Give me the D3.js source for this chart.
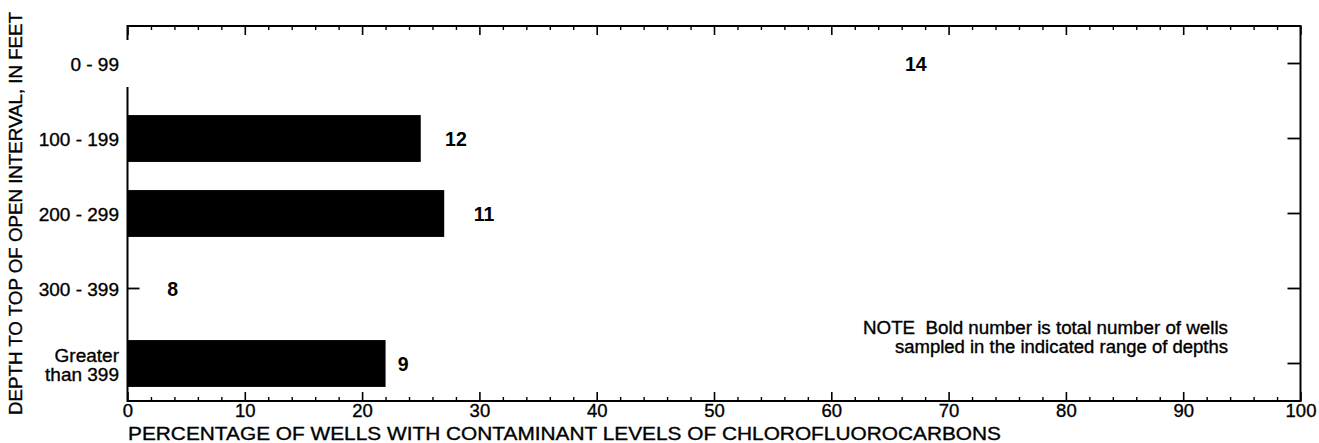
<!DOCTYPE html>
<html>
<head>
<meta charset="utf-8">
<script src="https://cdn.jsdelivr.net/npm/d3@7/dist/d3.min.js"></script>
<style>
  html, body { margin: 0; padding: 0; background: #fff; }
  svg { display: block; }
  text { font-family: "Liberation Sans", Arial, Helvetica, sans-serif; fill: #000; }
  text.heavy { stroke: #000; stroke-width: 0.35px; }
</style>
</head>
<body>
<svg id="chart" width="1319" height="443"></svg>
<script>
// Depth ranges (top of open interval, feet)
const categories = ["0 - 99", "100 - 199", "200 - 299", "300 - 399", "Greater than 399"];
// Label lines shown on the depth axis
const categoryLabels = [["0 - 99"], ["100 - 199"], ["200 - 299"], ["300 - 399"], ["Greater", "than 399"]];
// Percentage of wells with contaminant levels of CFCs
const percentValues = [0, 25, 27, 0, 22];
// Total number of wells sampled in each depth range
const wellCounts = [14, 12, 11, 8, 9];
// Percentage axis ticks
const majorTicks = [0, 10, 20, 30, 40, 50, 60, 70, 80, 90, 100];
const minorTicks = [2, 4, 6, 8, 12, 14, 16, 18, 22, 24, 26, 28, 32, 34, 36, 38, 42, 44, 46, 48,
                    52, 54, 56, 58, 62, 64, 66, 68, 72, 74, 76, 78, 82, 84, 86, 88, 92, 94, 96, 98];

// Where each well-count label sits along the percentage axis
const countLabelAt = [67.2, 28.0, 30.4, 3.85, 23.5];

const svg = d3.select("#chart");
const plotLeft = 127.5, plotRight = 1300.5, plotTop = 26, plotBottom = 401;

const x = d3.scaleLinear().domain([0, 100]).range([plotLeft, plotRight]);
const y = d3.scaleBand().domain(categories).range([plotTop, plotBottom])
  .paddingInner(0.375).paddingOuter(0.1875);

// Bars
svg.append("g").selectAll("rect")
  .data(categories)
  .join("rect")
  .attr("x", x(0))
  .attr("y", d => y(d))
  .attr("width", (d, i) => x(percentValues[i]) - x(0))
  .attr("height", y.bandwidth())
  .attr("fill", "#000");

// Axes with inward ticks
function styleAxis(g, width) {
  g.select(".domain").remove();
  g.selectAll(".tick line").attr("stroke", "#000").attr("stroke-width", width);
}

// bottom: major ticks with labels, minor ticks without
svg.append("g").attr("transform", `translate(0,${plotBottom})`)
  .call(d3.axisBottom(x).tickValues(majorTicks).tickSizeInner(-9).tickSizeOuter(0).tickPadding(3).tickFormat(d3.format("d")))
  .call(g => styleAxis(g, 1.6))
  .call(g => g.selectAll(".tick text").attr("class", "heavy").attr("font-size", 18.5).attr("fill", "#000"));
svg.append("g").attr("transform", `translate(0,${plotBottom})`)
  .call(d3.axisBottom(x).tickValues(minorTicks).tickSizeInner(-4).tickSizeOuter(0).tickFormat(""))
  .call(g => styleAxis(g, 1.4));

// top: mirrored ticks
svg.append("g").attr("transform", `translate(0,${plotTop})`)
  .call(d3.axisTop(x).tickValues(majorTicks).tickSizeInner(-9).tickSizeOuter(0).tickFormat(""))
  .call(g => styleAxis(g, 1.6));
svg.append("g").attr("transform", `translate(0,${plotTop})`)
  .call(d3.axisTop(x).tickValues(minorTicks).tickSizeInner(-4).tickSizeOuter(0).tickFormat(""))
  .call(g => styleAxis(g, 1.4));

// right: row ticks
svg.append("g").attr("transform", `translate(${plotRight},0)`)
  .call(d3.axisRight(y).tickSizeInner(-13).tickSizeOuter(0).tickFormat(""))
  .call(g => styleAxis(g, 1.8));

// left: row ticks and depth labels
const leftAxis = svg.append("g").attr("transform", `translate(${plotLeft},0)`)
  .call(d3.axisLeft(y).tickSizeInner(-12).tickSizeOuter(0).tickPadding(9).tickFormat(""))
  .call(g => styleAxis(g, 1.8));
leftAxis.selectAll(".tick").filter((d, i) => i === 0).select("line").remove();
leftAxis.selectAll(".tick text").each(function(d) {
  const lines = categoryLabels[categories.indexOf(d)];
  const t = d3.select(this)
    .attr("class", "heavy")
    .attr("font-size", 19).attr("fill", "#000")
    .attr("text-anchor", "end").attr("x", -8.5).attr("dy", null);
  const lh = 19;
  lines.forEach((ln, k) => {
    t.append("tspan").attr("x", -8.5)
      .attr("y", (k - (lines.length - 1) / 2) * lh + 1)
      .attr("dy", "0.35em")
      .text(ln);
  });
});

// Frame: the left spine is interrupted across the first row
const frame = svg.append("g").attr("stroke", "#000").attr("stroke-width", 2).attr("fill", "none");
frame.append("path").attr("d", `M${plotLeft},${y(categories[0])}V${plotTop}H${plotRight}V${plotBottom}H${plotLeft}V${y(categories[0]) + y.bandwidth()}`);

// Well-count labels
svg.append("g").selectAll("text")
  .data(wellCounts)
  .join("text")
  .attr("x", (d, i) => x(countLabelAt[i]))
  .attr("y", (d, i) => y(categories[i]) + y.bandwidth() / 2 + 1)
  .attr("dy", "0.35em")
  .attr("text-anchor", "middle")
  .attr("font-size", 19.5)
  .attr("font-weight", "bold")
  .text(d => d);

// Note
const note = svg.append("text").attr("class", "heavy").attr("font-size", 17.5).attr("text-anchor", "end");
note.append("tspan").attr("x", 1228).attr("y", 334).attr("textLength", 365).attr("lengthAdjust", "spacingAndGlyphs")
  .text("NOTE\u00a0\u00a0Bold number is total number of wells");
note.append("tspan").attr("x", 1228).attr("y", 353).attr("textLength", 333).attr("lengthAdjust", "spacingAndGlyphs")
  .text("sampled in the indicated range of depths");

// Axis titles
svg.append("text")
  .attr("class", "heavy")
  .attr("x", 128).attr("y", 440)
  .attr("font-size", 18.5)
  .attr("textLength", 873).attr("lengthAdjust", "spacingAndGlyphs")
  .text("PERCENTAGE OF WELLS WITH CONTAMINANT LEVELS OF CHLOROFLUOROCARBONS");

svg.append("text")
  .attr("class", "heavy")
  .attr("transform", "translate(22,213.5) rotate(-90)")
  .attr("text-anchor", "middle")
  .attr("font-size", 18.5)
  .attr("textLength", 403).attr("lengthAdjust", "spacingAndGlyphs")
  .text("DEPTH TO TOP OF OPEN INTERVAL, IN FEET");
</script>
</body>
</html>
